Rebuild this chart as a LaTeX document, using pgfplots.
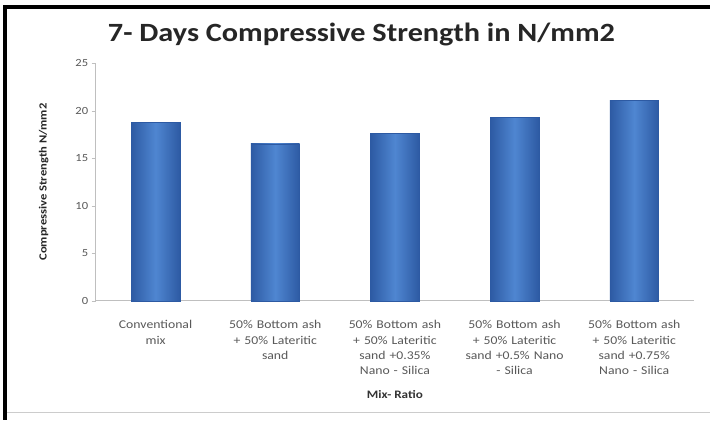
\documentclass[border=0pt]{standalone}
\usepackage{pgfplots}
\pgfplotsset{compat=1.18}
\usepackage{fontspec}
\setmainfont{Carlito}[FakeStretch=1.15]
\definecolor{barmid}{HTML}{4F86D1}
\definecolor{baredge}{HTML}{2D5AA3}
\definecolor{txtgray}{HTML}{595959}
\definecolor{axgray}{HTML}{BFBFBF}
\pgfplotsset{mybar/.style={ybar, bar shift=0pt, bar width=49bp, draw=baredge, line width=0.5bp, shading=axis, shading angle=90, left color=baredge, right color=baredge, middle color=barmid}}
\begin{document}
\begin{tikzpicture}[x=1bp,y=1bp]
\fill[white] (0,0) rectangle (712,421);
\draw[black,line width=4bp] (5,0) -- (5,414) -- (712,414);
\draw[gray!40,line width=1bp] (7,7) -- (712,7);
\begin{axis}[
  at={(96bp,119.3bp)}, anchor=south west,
  scale only axis, width=600bp, height=238.4bp,
  xmin=-0.5, xmax=4.5, ymin=0, ymax=25,
  ytick={0,5,10,15,20,25},
  xtick={0,1,2,3,4},
  xticklabels={{Conventional\\mix},{50\% Bottom ash\\+ 50\% Lateritic\\sand},{50\% Bottom ash\\+ 50\% Lateritic\\sand +0.35\%\\Nano - Silica},{50\% Bottom ash\\+ 50\% Lateritic\\sand +0.5\% Nano\\- Silica},{50\% Bottom ash\\+ 50\% Lateritic\\sand +0.75\%\\Nano - Silica}},
  axis x line*=bottom, axis y line*=left,
  axis line style={axgray, line width=0.8bp, -},
  tick align=outside, major tick length=4bp,
  ytick style={axgray}, xtick style={draw=none},
  /pgf/number format/assume math mode=true,
  yticklabel style={font=\fontsize{11}{13}\selectfont, text=txtgray},
  xticklabel style={font=\fontsize{12}{15.5}\selectfont, text=txtgray, align=center, text width=125bp, yshift=-12bp},
  ylabel={Compressive Strength N/mm2},
  ylabel style={font=\fontsize{11}{13}\selectfont\bfseries, text=black!85, at={(axis description cs:-0.087,0.5)}, anchor=center},
  xlabel={Mix- Ratio},
  xlabel style={font=\fontsize{11.5}{13}\selectfont\bfseries, text=black!80, at={(axis description cs:0.5,-0.396)}, anchor=center},
  clip=false,
]
\addplot[mybar] coordinates {(0,18.8)};
\addplot[mybar] coordinates {(1,16.5)};
\addplot[mybar] coordinates {(2,17.6)};
\addplot[mybar] coordinates {(3,19.3)};
\addplot[mybar] coordinates {(4,21.1)};
\end{axis}
\node[font=\fontsize{26.5}{30}\selectfont\bfseries, text=black!85, anchor=base] at (362.5,379.3) {7- Days Compressive Strength in N/mm2};
\end{tikzpicture}
\end{document}
